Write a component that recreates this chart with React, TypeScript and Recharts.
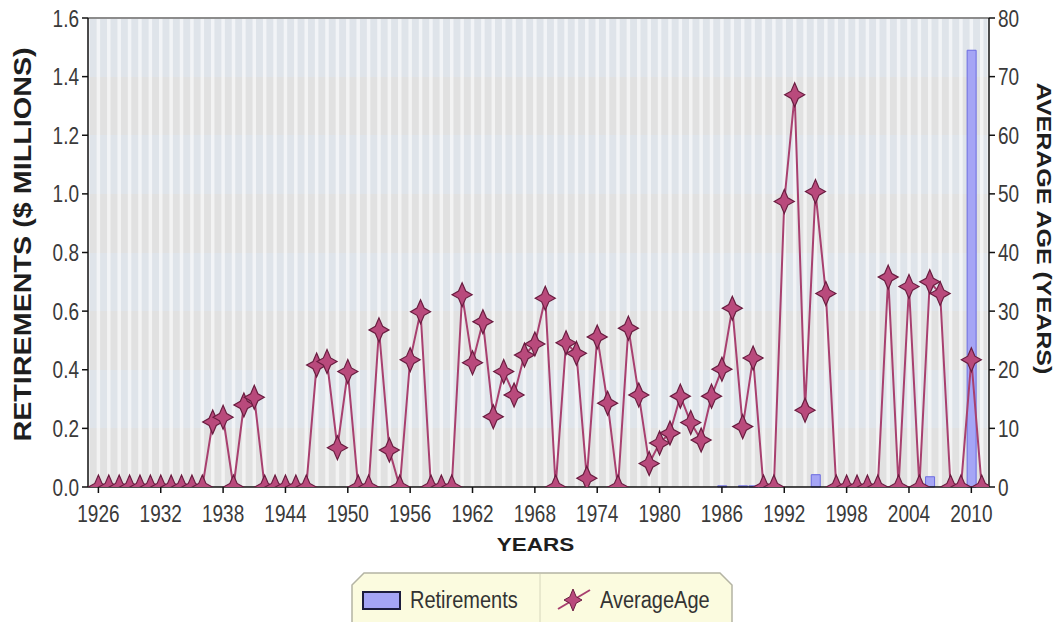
import React from "react";
import {
  ComposedChart,
  Bar,
  Line,
  XAxis,
  YAxis,
  CartesianGrid,
  Legend,
  ReferenceLine,
} from "recharts";

// one entry per year, 1926 .. 2011
const years = [
  1926, 1927, 1928, 1929, 1930, 1931, 1932, 1933, 1934, 1935, 1936, 1937, 1938,
  1939, 1940, 1941, 1942, 1943, 1944, 1945, 1946, 1947, 1948, 1949, 1950, 1951,
  1952, 1953, 1954, 1955, 1956, 1957, 1958, 1959, 1960, 1961, 1962, 1963, 1964,
  1965, 1966, 1967, 1968, 1969, 1970, 1971, 1972, 1973, 1974, 1975, 1976, 1977,
  1978, 1979, 1980, 1981, 1982, 1983, 1984, 1985, 1986, 1987, 1988, 1989, 1990,
  1991, 1992, 1993, 1994, 1995, 1996, 1997, 1998, 1999, 2000, 2001, 2002, 2003,
  2004, 2005, 2006, 2007, 2008, 2009, 2010, 2011,
];

// $ millions
const retirements = [
  0, 0, 0, 0, 0, 0, 0, 0, 0, 0, 0, 0, 0,
  0, 0, 0, 0, 0, 0, 0, 0, 0, 0, 0, 0, 0,
  0, 0, 0, 0, 0, 0, 0, 0, 0, 0, 0, 0, 0,
  0, 0, 0, 0, 0, 0, 0, 0, 0, 0, 0, 0, 0,
  0, 0, 0, 0, 0, 0, 0, 0, 0.004, 0, 0.004, 0.004, 0.003,
  0, 0, 0, 0, 0.042, 0, 0, 0, 0, 0, 0, 0, 0,
  0, 0, 0.035, 0, 0, 0, 1.49, 0,
];

// years
const averageAge = [
  0, 0, 0, 0, 0, 0, 0, 0, 0, 0, 0, 11.1, 11.9,
  0, 14.0, 15.3, 0, 0, 0, 0, 0, 20.8, 21.4, 6.7, 19.7, 0,
  0, 26.8, 6.3, 0, 21.7, 29.9, 0, 0, 0, 32.8, 21.2, 28.2, 12.0,
  19.7, 15.7, 22.5, 24.4, 32.2, 0, 24.6, 22.8, 1.5, 25.6, 14.3, 0, 27.1,
  15.7, 4.0, 7.5, 9.2, 15.5, 11.0, 8.0, 15.5, 20.1, 30.5, 10.3, 22.0, 0,
  0, 48.7, 66.9, 13.1, 50.4, 33.0, 0, 0, 0, 0, 0, 35.8, 0,
  34.2, 0, 35.0, 33.0, 0, 0, 21.7, 0,
];

const yearTicks = [1926, 1932, 1938, 1944, 1950, 1956, 1962, 1968, 1974, 1980, 1986, 1992, 1998, 2004, 2010];
const retirementTicks = [0, 0.2, 0.4, 0.6, 0.8, 1.0, 1.2, 1.4, 1.6];
const ageTicks = [0, 10, 20, 30, 40, 50, 60, 70, 80];

const data = years.map((year, i) => ({
  year,
  Retirements: retirements[i],
  AverageAge: averageAge[i],
}));

const X_DOMAIN: [number, number] = [1925, 2011.7];
const FONT = "'Liberation Sans', Arial, sans-serif";
const STRETCH = 1.25; // the source picture is squashed tall

const LINE_COLOR = "#a8406f";
const STAR_FILL = "#b94a7c";
const STAR_EDGE = "#6a1d40";
const BAR_FILL = "#a5a5f5";
const BAR_EDGE = "#6c6ce0";

function starPath(cx: number, cy: number, rx: number, ry: number, r: number) {
  return [
    `M${cx},${cy - ry}`,
    `L${cx + r},${cy - r}`,
    `L${cx + rx},${cy}`,
    `L${cx + r},${cy + r}`,
    `L${cx},${cy + ry}`,
    `L${cx - r},${cy + r}`,
    `L${cx - rx},${cy}`,
    `L${cx - r},${cy - r}`,
    "Z",
  ].join(" ");
}

const StarDot = (props: any) => {
  const { cx, cy, index } = props;
  if (cx == null || cy == null) return <g key={`star-${index}`} />;
  return (
    <path
      key={`star-${index}`}
      d={starPath(cx, cy, 10, 12, 3.6)}
      fill={STAR_FILL}
      stroke={STAR_EDGE}
      strokeWidth={1.2}
    />
  );
};

function makeTick(anchor: "start" | "middle" | "end", dy: string, fmt: (v: number) => string) {
  return (props: any) => {
    const { x, y, payload } = props;
    return (
      <text
        transform={`translate(${x},${y}) scale(1,${STRETCH})`}
        textAnchor={anchor}
        dy={dy}
        fontFamily={FONT}
        fontSize={19}
        fill="#3a3a3a"
      >
        {fmt(payload.value)}
      </text>
    );
  };
}

const LeftTick = makeTick("end", "0.36em", (v) => v.toFixed(1));
const RightTick = makeTick("start", "0.36em", (v) => String(v));
const BottomTick = makeTick("middle", "0.71em", (v) => String(v));

function Title({ x, y, rotate, size, children }: any) {
  return (
    <text
      transform={`translate(${x},${y}) rotate(${rotate}) scale(${STRETCH},1)`}
      textAnchor="middle"
      dy="0.36em"
      fontFamily={FONT}
      fontWeight="bold"
      fontSize={size}
      fill="#1e1e1e"
    >
      {children}
    </text>
  );
}

const renderLegend = () => (
  <svg width={384} height={52} style={{ display: "block" }}>
    <polygon
      points="2,14 14,2 370,2 382,14 382,52 2,52"
      fill="#fbfbdf"
      stroke="#b4b4a4"
      strokeWidth={1.5}
    />
    <line x1={190} y1={3} x2={190} y2={52} stroke="#d6d6bc" />
    <rect x={13} y={21} width={37} height={17} fill={BAR_FILL} stroke="#1d1d3d" strokeWidth={2} />
    <text
      transform={`translate(60,29) scale(1,1.15)`}
      dy="0.36em"
      fontFamily={FONT}
      fontSize={20}
      fill="#333"
    >
      Retirements
    </text>
    <line x1={208} y1={38} x2={240} y2={19} stroke={LINE_COLOR} strokeWidth={2} />
    <path d={starPath(223, 29, 9, 11, 3.2)} fill={STAR_FILL} stroke={STAR_EDGE} strokeWidth={1} />
    <text
      transform={`translate(250,29) scale(1,1.15)`}
      dy="0.36em"
      fontFamily={FONT}
      fontSize={20}
      fill="#333"
    >
      AverageAge
    </text>
  </svg>
);

export default function App() {
  return (
    <div style={{ position: "absolute", left: 0, top: 0, background: "#fff", fontFamily: FONT }}>
      <ComposedChart
        width={1058}
        height={622}
        data={data}
        margin={{ top: 18, right: 29, bottom: 95, left: 28 }}
      >
        {/* banded background with a pale stripe for every year */}
        <CartesianGrid
          xAxisId="grid"
          yAxisId="left"
          horizontal={() => null}
          horizontalFill={["#dfe4ea", "#e1e1e1"]}
          stroke="rgba(255,255,255,0.6)"
          strokeWidth={3.5}
        />
        <XAxis
          xAxisId="x"
          dataKey="year"
          type="number"
          domain={X_DOMAIN}
          allowDataOverflow
          ticks={yearTicks}
          interval={0}
          height={40}
          tickSize={6}
          tickMargin={12}
          axisLine={{ stroke: "#111", strokeWidth: 1.5 }}
          tickLine={{ stroke: "#111", strokeWidth: 1.5 }}
          tick={BottomTick}
          label={{
            content: ({ viewBox }: any) => (
              <Title x={viewBox.x + viewBox.width / 2 - 3} y={545} rotate={0} size={18}>
                YEARS
              </Title>
            ),
          }}
        />
        <XAxis
          xAxisId="grid"
          dataKey="year"
          type="number"
          domain={X_DOMAIN}
          allowDataOverflow
          ticks={years}
          interval={0}
          height={0}
          hide
        />
        <YAxis
          yAxisId="left"
          orientation="left"
          width={60}
          domain={[0, 1.6]}
          ticks={retirementTicks}
          interval={0}
          tickSize={6}
          tickMargin={3}
          axisLine={{ stroke: "#111", strokeWidth: 1.5 }}
          tickLine={{ stroke: "#111", strokeWidth: 1.5 }}
          tick={LeftTick}
          label={{
            content: ({ viewBox }: any) => (
              <Title x={viewBox.x - 5} y={viewBox.y + viewBox.height / 2 - 8} rotate={-90} size={23}>
                RETIREMENTS ($ MILLIONS)
              </Title>
            ),
          }}
        />
        <YAxis
          yAxisId="right"
          orientation="right"
          width={40}
          domain={[0, 80]}
          allowDataOverflow
          ticks={ageTicks}
          interval={0}
          tickSize={6}
          tickMargin={3}
          axisLine={{ stroke: "#111", strokeWidth: 1.5 }}
          tickLine={{ stroke: "#111", strokeWidth: 1.5 }}
          tick={RightTick}
          label={{
            content: ({ viewBox }: any) => (
              <Title x={viewBox.x + viewBox.width + 15} y={viewBox.y + viewBox.height / 2 - 24} rotate={90} size={20}>
                AVERAGE AGE (YEARS)
              </Title>
            ),
          }}
        />
        <ReferenceLine xAxisId="x" yAxisId="left" y={1.6} stroke="#8c8c8c" strokeWidth={2} />
        <Bar
          xAxisId="x"
          yAxisId="left"
          dataKey="Retirements"
          barSize={9}
          fill={BAR_FILL}
          stroke={BAR_EDGE}
          strokeWidth={1}
          isAnimationActive={false}
        />
        <Line
          xAxisId="x"
          yAxisId="right"
          dataKey="AverageAge"
          type="linear"
          stroke={LINE_COLOR}
          strokeWidth={2}
          dot={StarDot}
          activeDot={false}
          isAnimationActive={false}
        />
        <Legend
          layout="horizontal"
          verticalAlign="middle"
          align="center"
          content={renderLegend}
          wrapperStyle={{ left: 350, top: 571, width: 384, height: 52 }}
        />
      </ComposedChart>
    </div>
  );
}
